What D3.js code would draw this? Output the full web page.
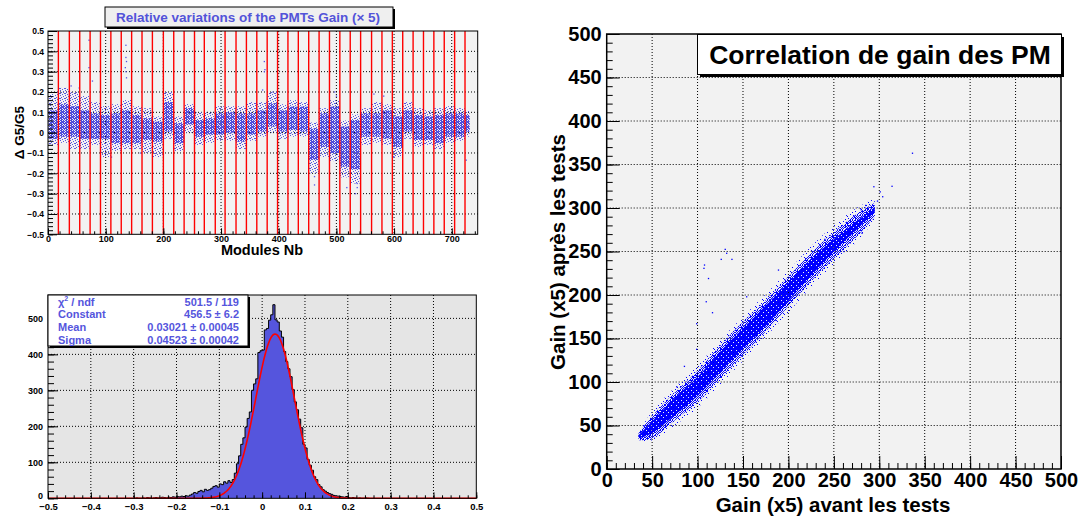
<!DOCTYPE html>
<html>
<head>
<meta charset="utf-8">
<script src="https://cdn.jsdelivr.net/npm/d3@7"></script>
<style>
  body { margin: 0; background: #fff; }
  text { font-family: "Liberation Sans", Arial, sans-serif; font-weight: bold; }
</style>
</head>
<body>
<svg id="chart" width="1082" height="518"></svg>
<script>
// ---------- Panel 1 : relative variation per module ----------
var moduleTicks = [0, 100, 200, 300, 400, 500, 600, 700];
var relTicks = [-0.5, -0.4, -0.3, -0.2, -0.1, 0, 0.1, 0.2, 0.3, 0.4, 0.5];
// red separators between groups of modules
var sepModules = [18, 37, 55, 73, 91, 109, 127, 145, 163, 181, 200, 218, 236, 254, 271, 290, 307, 326, 344, 362,
                  380, 398, 416, 434, 452, 470, 488, 506, 524, 542, 561, 579, 597, 615, 633, 651, 669, 687, 705, 723];
var firstModule = 1, lastModule = 731;
// dense part of the cloud in each group
var coreLo = [-0.03, -0.02, -0.02, -0.03, -0.03, -0.03, -0.05, -0.05, -0.05, -0.036, -0.044, 0.005, -0.05, 0.04, -0.02, -0.01, -0.01, 0.0, -0.044, -0.01,
              0.005, 0.03, 0.005, 0.013, 0.005, -0.134, -0.07, -0.1, -0.167, -0.18, -0.02, -0.02, -0.028, -0.07, 0.005, -0.036, -0.036, -0.05, -0.02, -0.02, 0.005];
var coreHi = [0.11, 0.14, 0.13, 0.11, 0.095, 0.087, 0.095, 0.11, 0.087, 0.07, 0.054, 0.15, 0.046, 0.12, 0.062, 0.07, 0.095, 0.1, 0.095, 0.095,
              0.11, 0.144, 0.11, 0.128, 0.128, 0.02, 0.095, 0.128, 0.03, 0.062, 0.095, 0.095, 0.11, 0.08, 0.11, 0.087, 0.08, 0.087, 0.095, 0.095, 0.087];
// sparse tails of the cloud in each group
var tailLo = [-0.06, -0.05, -0.08, -0.08, -0.06, -0.12, -0.09, -0.08, -0.08, -0.1, -0.12, -0.03, -0.09, 0.0, -0.06, -0.05, -0.04, -0.04, -0.08, -0.04,
              -0.02, 0.0, -0.03, -0.02, -0.02, -0.2, -0.12, -0.14, -0.22, -0.25, -0.06, -0.05, -0.06, -0.12, -0.03, -0.07, -0.06, -0.08, -0.05, -0.04, -0.02];
var tailHi = [0.19, 0.22, 0.2, 0.18, 0.15, 0.13, 0.14, 0.16, 0.13, 0.12, 0.08, 0.2, 0.08, 0.14, 0.1, 0.1, 0.13, 0.13, 0.13, 0.15,
              0.15, 0.2, 0.14, 0.16, 0.15, 0.05, 0.12, 0.16, 0.06, 0.09, 0.12, 0.15, 0.14, 0.12, 0.15, 0.12, 0.11, 0.12, 0.13, 0.12, 0.11];
var outliers1 = [[71, 0.455], [71, 0.32], [72, -0.28], [77, 0.254], [135, 0.43], [135, 0.37], [136, 0.35], [134, 0.32], [135, 0.3],
                 [136, 0.27], [40, 0.23], [54, 0.22], [17, 0.2], [375, 0.35], [376, 0.31], [375, 0.3], [372, 0.21], [390, 0.2],
                 [497, 0.2], [500, 0.18], [582, 0.18], [565, 0.19], [462, -0.216], [462, -0.257], [518, -0.27], [536, -0.27],
                 [536, -0.25], [533, -0.3], [600, -0.12], [725, -0.135], [110, -0.12], [160, -0.1]];

// ---------- Panel 2 : histogram of the variations ----------
var histTicksX = [-0.5, -0.4, -0.3, -0.2, -0.1, 0, 0.1, 0.2, 0.3, 0.4, 0.5];
var histTicksY = [0, 100, 200, 300, 400, 500];
var binStart = -0.3, binWidth = 0.005;
var binCounts = [0, 1, 0, 0, 1, 0, 2, 1, 0, 1, 2, 1, 1, 3, 2, 1, 3, 2, 4, 3,
                 5, 4, 6, 5, 7, 6, 9, 12, 16, 14, 19, 22, 18, 25, 22, 24, 28, 33, 35, 31,
                 40, 38, 46, 42, 49, 44, 52, 70, 96, 118, 150, 168, 198, 222, 240, 300, 318, 332, 405, 410,
                 412, 468, 472, 495, 510, 538, 496, 490, 465, 448, 408, 380, 360, 338, 302, 268, 246, 220, 196, 150,
                 140, 108, 92, 78, 60, 52, 38, 32, 24, 20, 16, 13, 11, 8, 7, 6, 5, 4, 3, 5,
                 2, 1, 2, 1, 0, 1, 0, 0, 1, 0];
var fitConst = 456.5, fitMean = 0.03021, fitSigma = 0.04523;
var statNames = ["ndf", "Constant", "Mean", "Sigma"];
var statValues = ["501.5 / 119", "456.5 \u00b1 6.2", "0.03021 \u00b1 0.00045", "0.04523 \u00b1 0.00042"];

// ---------- Panel 3 : gain correlation ----------
var gainTicks = [0, 50, 100, 150, 200, 250, 300, 350, 400, 450, 500];
var bandX        = [35, 50, 75, 100, 125, 150, 175, 200, 225, 250, 275, 295];
var bandCoreLo   = [35, 41, 62, 84, 111, 138, 164, 193, 222, 250, 275, 295];
var bandCoreHi   = [39, 55, 82, 106, 135, 162, 188, 215, 242, 264, 285, 301];
var bandOuterLo  = [33, 35, 56, 77, 104, 131, 158, 187, 216, 242, 267, 290];
var bandOuterHi  = [41, 61, 88, 113, 142, 169, 194, 221, 248, 272, 293, 306];
var bandFringeLo = [32, 33, 50, 70, 97, 124, 152, 180, 209, 236, 261, 286];
var bandFringeHi = [42, 66, 94, 119, 148, 175, 201, 228, 256, 280, 300, 311];
var outliers3 = [[314, 325], [336.5, 363], [294, 324.5], [301, 318.6], [303.7, 313], [298, 308], [285, 303], [280, 298],
                 [130.4, 252.5], [132, 248], [126, 241], [137.8, 241], [107.6, 234.5], [107, 230.7], [112, 219],
                 [109.5, 192.3], [116.4, 179.7], [99, 167], [154, 198], [189, 228.7], [281, 271], [261, 250],
                 [99, 137.6], [85.5, 118], [77, 94.6], [240, 264], [268, 260]];

var svg = d3.select("#chart");
var defs = svg.append("defs");

function makePattern(id, size, dots, color) {
    var p = defs.append("pattern")
        .attr("id", id)
        .attr("patternUnits", "userSpaceOnUse")
        .attr("width", size)
        .attr("height", size);
    dots.forEach(function(d) {
        p.append("rect").attr("x", d[0]).attr("y", d[1]).attr("width", 1).attr("height", 1).attr("fill", color);
    });
}
var denseDots = [[0,0],[1,0],[3,0],[1,1],[2,1],[4,1],[0,2],[2,2],[3,2],[0,3],[1,3],[3,3],[4,3],[1,4],[2,4],[4,4]];
var sparseDots = [[0,0],[3,1],[1,2],[4,3],[2,4],[0,3]];
var solidDots = [[0,0],[2,0],[3,0],[4,0],[0,1],[1,1],[2,1],[3,1],[4,1],[0,2],[1,2],[2,2],[4,2],
                 [0,3],[1,3],[2,3],[3,3],[4,3],[1,4],[2,4],[3,4],[4,4]];
var halfDots = [[0,0],[2,0],[4,0],[1,1],[3,1],[0,2],[2,2],[4,2],[1,3],[3,3],[0,4],[2,4]];
var fewDots = [[1,1],[5,2],[3,4],[0,6],[6,5]];
makePattern("p1core", 5, denseDots, "#4b4bde");
makePattern("p1tail", 5, sparseDots, "#5555e0");
makePattern("p3core", 5, solidDots, "#0000ff");
makePattern("p3outer", 5, halfDots, "#0000ff");
makePattern("p3fringe", 7, fewDots, "#0000ff");

// ROOT style axis: ticks point inside the frame
function innerAxis(g, axisFn, scale, major, minor, majLen, minLen, fmt, fontSize, pad) {
    g.append("g").call(axisFn(scale).tickValues(minor).tickSize(-minLen).tickFormat(""))
        .call(function(s) { s.select(".domain").remove(); });
    var a = g.append("g").call(axisFn(scale).tickValues(major).tickSize(-majLen).tickPadding(pad).tickFormat(fmt));
    a.select(".domain").remove();
    a.selectAll("text").attr("font-size", fontSize).attr("font-family", null).attr("fill", "#000");
    g.selectAll("line").attr("stroke", "#000");
    return a;
}
function dottedGrid(g, xs, ys, xScale, yScale, x0, x1, y0, y1) {
    g.selectAll(".gv").data(xs).enter().append("line")
        .attr("x1", function(d) { return xScale(d); }).attr("x2", function(d) { return xScale(d); })
        .attr("y1", y0).attr("y2", y1);
    g.selectAll(".gh").data(ys).enter().append("line")
        .attr("y1", function(d) { return yScale(d); }).attr("y2", function(d) { return yScale(d); })
        .attr("x1", x0).attr("x2", x1);
    g.selectAll("line").attr("stroke", "#000").attr("stroke-width", 1).attr("stroke-dasharray", "1,2");
}
var fmt1 = function(d) { return d === 0 ? "0" : d3.format(".1f")(d); };

// ================= Panel 1 =================
var p1 = {left: 48, right: 477.7, top: 31, bottom: 234.3};
var x1 = d3.scaleLinear().domain([0, 745]).range([p1.left, p1.right]);
var y1 = d3.scaleLinear().domain([-0.5, 0.5]).range([p1.bottom, p1.top]);
var g1 = svg.append("g");
g1.append("rect").attr("x", p1.left).attr("y", p1.top).attr("width", p1.right - p1.left).attr("height", p1.bottom - p1.top).attr("fill", "#f2f2f2");
dottedGrid(g1.append("g"), moduleTicks.slice(1), relTicks.slice(1, -1), x1, y1, p1.left, p1.right, p1.top, p1.bottom);

var edges = [firstModule].concat(sepModules, [lastModule]);
var blocks = coreLo.map(function(d, i) {
    return {from: edges[i], to: edges[i + 1], lo: d, hi: coreHi[i], tlo: tailLo[i], thi: tailHi[i]};
});
g1.selectAll(".tail").data(blocks).enter().append("rect")
    .attr("x", function(d) { return x1(d.from); })
    .attr("width", function(d) { return x1(d.to) - x1(d.from); })
    .attr("y", function(d) { return y1(d.thi); })
    .attr("height", function(d) { return y1(d.tlo) - y1(d.thi); })
    .attr("fill", "url(#p1tail)");
g1.selectAll(".core").data(blocks).enter().append("rect")
    .attr("x", function(d) { return x1(d.from); })
    .attr("width", function(d) { return x1(d.to) - x1(d.from); })
    .attr("y", function(d) { return y1(d.hi); })
    .attr("height", function(d) { return y1(d.lo) - y1(d.hi); })
    .attr("fill", "url(#p1core)");
g1.selectAll(".out").data(outliers1).enter().append("rect")
    .attr("x", function(d) { return x1(d[0]) - 0.6; })
    .attr("y", function(d) { return y1(d[1]) - 0.6; })
    .attr("width", 1.3).attr("height", 1.3).attr("fill", "#5555e0");
g1.selectAll(".sep").data(sepModules).enter().append("line")
    .attr("x1", function(d) { return x1(d); }).attr("x2", function(d) { return x1(d); })
    .attr("y1", p1.top).attr("y2", p1.bottom)
    .attr("stroke", "#ff0000").attr("stroke-width", 1.4);

var relMinor = d3.range(-0.5, 0.5001, 0.02);
var modMinor = d3.range(0, 741, 20);
innerAxis(g1.append("g").attr("transform", "translate(" + p1.left + ",0)"), d3.axisLeft, y1, relTicks, relMinor, 9, 5, fmt1, 8.5, 4);
innerAxis(g1.append("g").attr("transform", "translate(0," + p1.bottom + ")"), d3.axisBottom, x1, moduleTicks, modMinor, 6, 3, d3.format("d"), 9, 1);
g1.append("rect").attr("x", p1.left).attr("y", p1.top).attr("width", p1.right - p1.left).attr("height", p1.bottom - p1.top)
    .attr("fill", "none").attr("stroke", "#000");
g1.append("text").attr("x", 262).attr("y", 255).attr("text-anchor", "middle").attr("font-size", 14.5).text("Modules Nb");
g1.append("text").attr("transform", "translate(24,132.7) rotate(-90)").attr("text-anchor", "middle").attr("font-size", 13.5).text("\u0394 G5/G5");
// title box
g1.append("rect").attr("x", 107).attr("y", 9).attr("width", 288).attr("height", 20).attr("fill", "#000");
g1.append("rect").attr("x", 105).attr("y", 7).attr("width", 288).attr("height", 20).attr("fill", "#efefef").attr("stroke", "#000");
g1.append("text").attr("x", 248).attr("y", 22).attr("text-anchor", "middle").attr("font-size", 13.5).attr("fill", "#5353d9")
    .text("Relative variations of the PMTs Gain (\u00d7 5)");

// ================= Panel 2 =================
var p2 = {left: 48, right: 476.3, top: 295, bottom: 498.3};
var x2 = d3.scaleLinear().domain([-0.5, 0.5]).range([p2.left, p2.right]);
var y2 = d3.scaleLinear().domain([0, 565]).range([p2.bottom, p2.top]);
var g2 = svg.append("g");
g2.append("rect").attr("x", p2.left).attr("y", p2.top).attr("width", p2.right - p2.left).attr("height", p2.bottom - p2.top).attr("fill", "#e5e5e5");
dottedGrid(g2.append("g"), histTicksX.slice(1, -1), histTicksY.slice(1), x2, y2, p2.left, p2.right, p2.top, p2.bottom);

var bins = binCounts.map(function(c, i) { return {x: binStart + i * binWidth, c: c}; });
bins.push({x: binStart + binCounts.length * binWidth, c: 0});
var histArea = d3.area().curve(d3.curveStepAfter)
    .x(function(d) { return x2(d.x); }).y0(y2(0)).y1(function(d) { return y2(d.c); });
var histLine = d3.line().curve(d3.curveStepAfter)
    .x(function(d) { return x2(d.x); }).y(function(d) { return y2(d.c); });
g2.append("path").datum(bins).attr("d", histArea).attr("fill", "#5555dd");
g2.append("path").datum(bins).attr("d", histLine).attr("fill", "none").attr("stroke", "#000").attr("stroke-width", 1);

var fitXs = d3.range(-0.5, 0.5001, 0.002);
var fitLine = d3.line()
    .x(function(d) { return x2(d); })
    .y(function(d) { return y2(fitConst * Math.exp(-0.5 * Math.pow((d - fitMean) / fitSigma, 2))); });
g2.append("path").datum(fitXs).attr("d", fitLine).attr("fill", "none").attr("stroke", "#ff0000").attr("stroke-width", 1.6);

var ax2 = innerAxis(g2.append("g").attr("transform", "translate(" + p2.left + ",0)"), d3.axisLeft, y2, histTicksY, d3.range(0, 561, 20), 10, 6, d3.format("d"), 9, 5);
ax2.selectAll(".tick text").filter(function(d) { return d === 0; }).attr("dy", "0.05em");
innerAxis(g2.append("g").attr("transform", "translate(0," + p2.bottom + ")"), d3.axisBottom, x2, histTicksX, d3.range(-0.5, 0.5001, 0.02), 6, 3, fmt1, 9.5, 5);
g2.append("rect").attr("x", p2.left).attr("y", p2.top).attr("width", p2.right - p2.left).attr("height", p2.bottom - p2.top)
    .attr("fill", "none").attr("stroke", "#000");

// stats box
g2.append("rect").attr("x", 50).attr("y", 297).attr("width", 200).attr("height", 51).attr("fill", "#000");
g2.append("rect").attr("x", 48).attr("y", 295).attr("width", 200).attr("height", 51).attr("fill", "#fff").attr("stroke", "#000");
var statY = [305.5, 318, 330.7, 344.3];
statNames.forEach(function(n, i) {
    var t = g2.append("text").attr("x", 58).attr("y", statY[i]).attr("font-size", 11).attr("fill", "#5555dd");
    if (i === 0) {
        t.append("tspan").text("\u03c7");
        t.append("tspan").attr("font-size", 7).attr("dy", -4.5).text("2");
        t.append("tspan").attr("dy", 4.5).text(" / ndf");
    } else {
        t.text(n);
    }
    g2.append("text").attr("x", 239).attr("y", statY[i]).attr("text-anchor", "end").attr("font-size", 11).attr("fill", "#5555dd").text(statValues[i]);
});

// ================= Panel 3 =================
var p3 = {left: 606.7, right: 1061, top: 34, bottom: 469};
var x3 = d3.scaleLinear().domain([0, 500]).range([p3.left, p3.right]);
var y3 = d3.scaleLinear().domain([0, 500]).range([p3.bottom, p3.top]);
var g3 = svg.append("g");
g3.append("rect").attr("x", p3.left).attr("y", p3.top).attr("width", p3.right - p3.left).attr("height", p3.bottom - p3.top).attr("fill", "#f2f2f2");
dottedGrid(g3.append("g"), gainTicks.slice(1, -1), gainTicks.slice(1, -1), x3, y3, p3.left, p3.right, p3.top, p3.bottom);

var band = bandX.map(function(x, i) {
    return {x: x, lo: bandCoreLo[i], hi: bandCoreHi[i], olo: bandOuterLo[i], ohi: bandOuterHi[i],
            flo: bandFringeLo[i], fhi: bandFringeHi[i]};
});
function bandArea(lo, hi) {
    return d3.area().curve(d3.curveCatmullRom)
        .x(function(d) { return x3(d.x); })
        .y0(function(d) { return y3(d[lo]); })
        .y1(function(d) { return y3(d[hi]); });
}
g3.append("path").datum(band).attr("d", bandArea("flo", "fhi")).attr("fill", "url(#p3fringe)");
g3.append("path").datum(band).attr("d", bandArea("olo", "ohi")).attr("fill", "url(#p3outer)");
g3.append("path").datum(band).attr("d", bandArea("lo", "hi")).attr("fill", "url(#p3core)");
g3.selectAll(".out").data(outliers3).enter().append("rect")
    .attr("x", function(d) { return x3(d[0]) - 0.6; })
    .attr("y", function(d) { return y3(d[1]) - 0.6; })
    .attr("width", 1.3).attr("height", 1.3).attr("fill", "#0000ff");

innerAxis(g3.append("g").attr("transform", "translate(" + p3.left + ",0)"), d3.axisLeft, y3, gainTicks, d3.range(0, 501, 10), 13, 6, d3.format("d"), 20, 5);
innerAxis(g3.append("g").attr("transform", "translate(0," + p3.bottom + ")"), d3.axisBottom, x3, gainTicks, d3.range(0, 501, 10), 13, 6, d3.format("d"), 20, 4);
g3.append("rect").attr("x", p3.left).attr("y", p3.top).attr("width", p3.right - p3.left).attr("height", p3.bottom - p3.top)
    .attr("fill", "none").attr("stroke", "#000").attr("stroke-width", 1.5);
g3.append("text").attr("x", 833).attr("y", 512).attr("text-anchor", "middle").attr("font-size", 20.5).text("Gain (x5) avant les tests");
g3.append("text").attr("transform", "translate(565,252) rotate(-90)").attr("text-anchor", "middle").attr("font-size", 20.5).text("Gain (x5) apr\u00e8s les tests");
// title box
g3.append("rect").attr("x", 700).attr("y", 37).attr("width", 364).attr("height", 40).attr("fill", "#000");
g3.append("rect").attr("x", 697.5).attr("y", 34.5).attr("width", 364).attr("height", 40).attr("fill", "#fff").attr("stroke", "#000");
g3.append("text").attr("x", 880).attr("y", 63.5).attr("text-anchor", "middle").attr("font-size", 26.5).text("Correlation de gain des PM");
</script>
</body>
</html>
